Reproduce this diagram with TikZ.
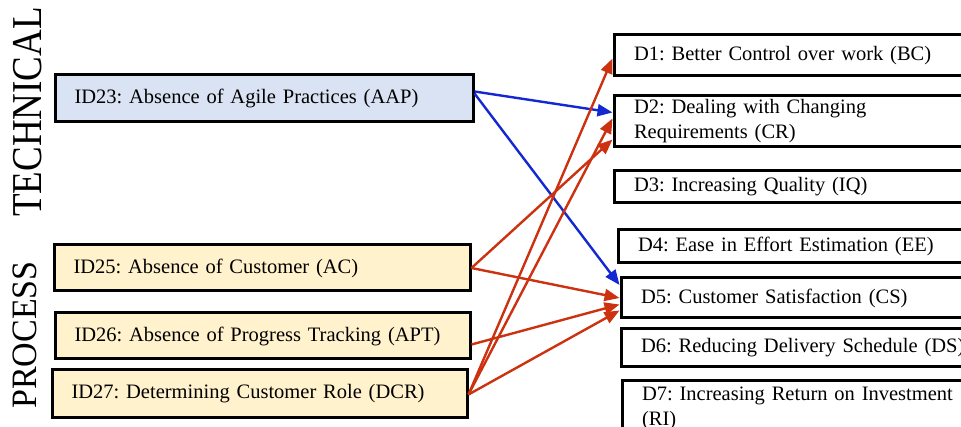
\documentclass[tikz,border=0pt]{standalone}
\usepackage{fontspec}
\setmainfont{Liberation Serif}
\usetikzlibrary{arrows.meta}
\definecolor{techfill}{RGB}{218,227,243}
\definecolor{procfill}{RGB}{255,242,204}
\definecolor{linkred}{RGB}{204,50,15}
\definecolor{linkblue}{RGB}{20,40,210}
\frenchspacing

\begin{document}
\begin{tikzpicture}[x=1pt,y=1pt,
  causebox/.style n args={2}{draw=black, line width=3pt, anchor=north west,
    inner xsep=19.5pt, inner ysep=0pt, text width=#1, minimum height=#2,
    align=left, font=\fontsize{20.5}{25}\selectfont},
  effectbox/.style={draw=black, line width=3pt, anchor=north west, fill=white,
    inner xsep=20pt, inner ysep=0pt, text width=340pt, minimum height=#1,
    align=left, font=\fontsize{20.5}{25}\selectfont},
  grouplabel/.style={rotate=90, inner sep=0pt},
  link/.style={line width=2.4pt, -{Triangle[length=15pt,width=12pt]}},
  redlink/.style={link, draw=linkred, fill=linkred},
  bluelink/.style={link, draw=linkblue, fill=linkblue}]

\useasboundingbox (0,0) rectangle (961,-427);
\clip (0,0) rectangle (961,-427);

% category labels
\node[grouplabel, font=\fontsize{37}{37}\selectfont] (tech) at (28,-112) {\scalebox{1}[1.15]{TECHNICAL}};
\node[grouplabel, font=\fontsize{34}{34}\selectfont] (proc) at (25,-335) {\scalebox{1}[1.05]{PROCESS}};

% barriers
\node[causebox={379pt}{47pt}, fill=techfill] (aap) at (53.5,-73.5) {ID23: Absence of Agile Practices (AAP)};
\node[causebox={377pt}{46pt}, fill=procfill] (ac)  at (52.5,-243.5) {ID25: Absence of Customer (AC)};
\node[causebox={376pt}{46pt}, fill=procfill] (apt) at (53.5,-311.5) {ID26: Absence of Progress Tracking (APT)};
\node[causebox={376pt}{47pt}, fill=procfill] (dcr) at (50.5,-368.5) {ID27: Determining Customer Role (DCR)};

% drivers
\node[effectbox=41pt] (d1) at (612.5,-33.5)  {D1: Better Control over work (BC)};
\node[effectbox=51pt] (d2) at (612.5,-94.5)  {D2: Dealing with Changing\\Requirements (CR)};
\node[effectbox=32pt] (d3) at (612.5,-169.5) {D3: Increasing Quality (IQ)};
\node[effectbox=33pt] (d4) at (616.5,-228.5) {D4: Ease in Effort Estimation (EE)};
\node[effectbox=40pt] (d5) at (619.5,-276.5) {D5: Customer Satisfaction (CS)};
\node[effectbox=38pt] (d6) at (619.5,-327.5) {D6: Reducing Delivery Schedule (DS)};
\node[effectbox=54pt] (d7) at (620.5,-379.5) {D7: Increasing Return on Investment\\(RI)};

% technical links
\draw[bluelink] ([yshift=7pt]aap.east) -- ([yshift=9pt]d2.west);
\draw[bluelink] ([yshift=5pt]aap.east) -- ([yshift=13pt]d5.west);

% process links
\draw[redlink] (ac.east) -- ([yshift=-18pt]d2.west);
\draw[redlink] (ac.east) -- (d5.west);
\draw[redlink] ([yshift=-8.5pt]apt.east) -- ([yshift=-6.5pt]d5.west);
\draw[redlink] ([yshift=-1pt]dcr.east) -- ([yshift=-3pt]d1.west);
\draw[redlink] ([yshift=-1pt]dcr.east) -- ([yshift=3pt]d2.west);
\draw[redlink] ([yshift=-1pt]dcr.east) -- ([yshift=-12.5pt]d5.west);
\end{tikzpicture}
\end{document}
